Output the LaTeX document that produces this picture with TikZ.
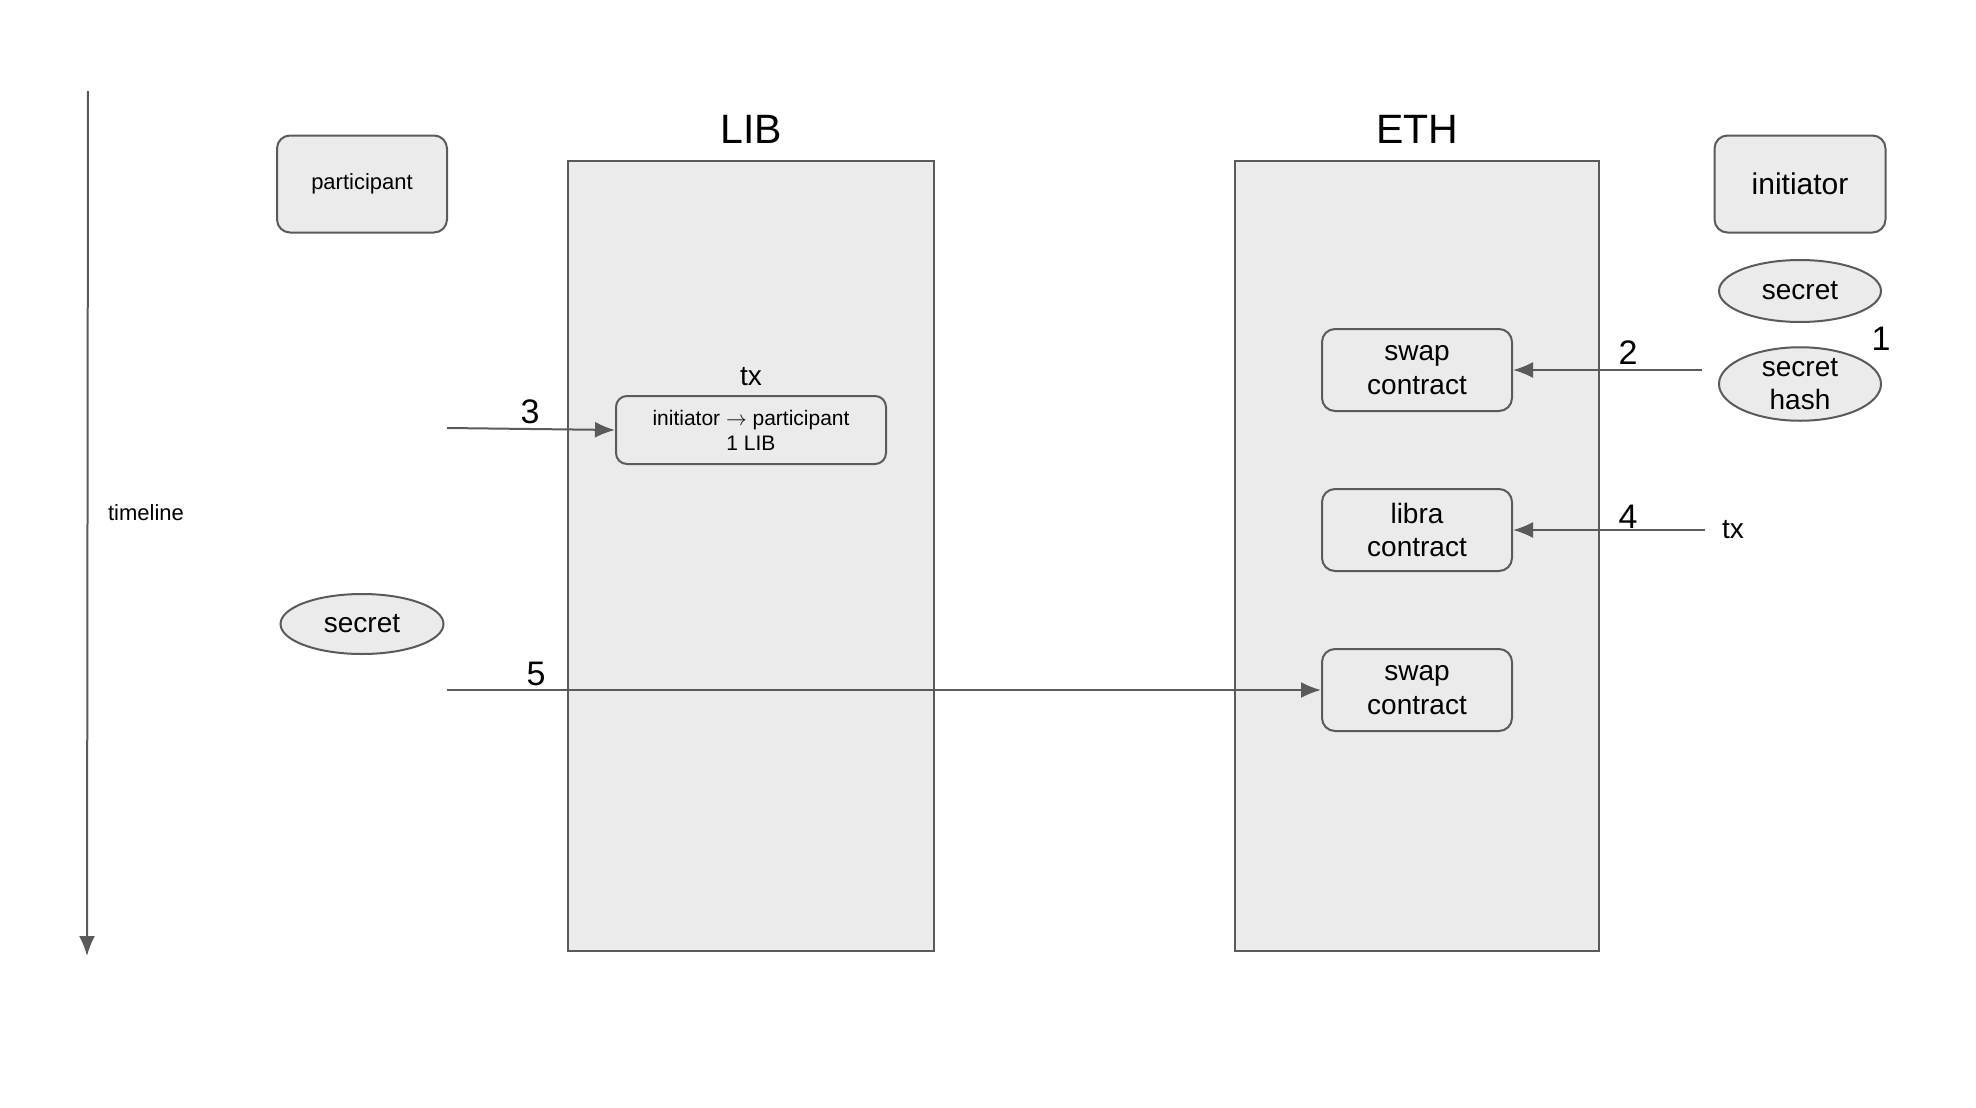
\documentclass[tikz,border=0pt]{standalone}
\usepackage{fontspec}
\setmainfont{Liberation Sans}
\usepackage{tikz}
\usetikzlibrary{positioning,calc,shapes.geometric,arrows.meta}
\definecolor{laneGray}{RGB}{235,235,235}
\definecolor{lineGray}{RGB}{90,90,90}
\newcommand{\fsz}[1]{\fontsize{#1}{1.2\dimexpr#1pt\relax}\selectfont}

\begin{document}
\begin{tikzpicture}[x=1pt, y=-1pt,
        % Style cho cot LIB / ETH
        lane/.style={
            rectangle,
            draw=lineGray,
            fill=laneGray,
            line width=2pt,
            inner sep=0pt
        },
        % Style cho cac hop bo goc
        rbox/.style={
            rectangle,
            rounded corners=13pt,
            draw=lineGray,
            fill=laneGray,
            line width=2pt,
            align=center,
            inner sep=0pt
        },
        % Style cho cac hinh elip
        oval/.style={
            ellipse,
            draw=lineGray,
            fill=laneGray,
            line width=2pt,
            inner sep=0pt
        },
        % Style cho mui ten
        flow/.style={
            draw=lineGray,
            line width=2pt,
            -{Latex[length=20pt,width=16pt]}
        },
        % Style cho so thu tu
        num/.style={
            font=\fsz{34}
        }
    ]

        % --- 0. KHUNG ---
        \useasboundingbox (0,0) rectangle (1976,1108);

        % --- 1. TRUC THOI GIAN ---
        \coordinate (tTop) at (88,91);
        \coordinate (tEnd) at (87,956);
        \draw[flow] (tTop) -- (tEnd);
        \node[font=\fsz{22}] (timeline) at (146,513) {timeline};

        % --- 2. HAI COT ---
        \node[lane, minimum width=366pt, minimum height=790pt] (lib) at (751,556) {};
        \node[lane, minimum width=364pt, minimum height=790pt] (eth) at (1417,556) {};
        \node[font=\fsz{41}] (libTitle) at (751,129) {LIB};
        \node[font=\fsz{41}] (ethTitle) at (1417,129) {ETH};

        % --- 3. CAC BEN ---
        \node[rbox, minimum width=170pt, minimum height=97pt, font=\fsz{22}] (participant) at (362,184) {participant};
        \node[rbox, minimum width=171pt, minimum height=97pt, font=\fsz{30}] (initiator) at (1800,184) {initiator};

        \node[oval, minimum width=162pt, minimum height=62pt, font=\fsz{28}] (secretR) at (1800,291) {secret};
        \node[oval, minimum width=162pt, minimum height=62pt, font=\fsz{28}, align=center] (hashR) at (1800,384) {secret\\hash};
        \node[num] (n1) at (1881,339) {1};

        \node[oval, minimum width=163pt, minimum height=60pt, font=\fsz{28}] (secretL) at (362,624) {secret};

        % --- 4. HOP DONG ---
        \node[rbox, minimum width=190pt, minimum height=82pt, font=\fsz{28}] (swap1) at (1417,370) {swap\\contract};
        \node[rbox, minimum width=190pt, minimum height=82pt, font=\fsz{28}] (libra) at (1417,530) {libra\\contract};
        \node[rbox, minimum width=190pt, minimum height=82pt, font=\fsz{28}] (swap2) at (1417,690) {swap\\contract};

        % giao dich tren LIB
        \node[rbox, rounded corners=11pt, minimum width=270pt, minimum height=68pt, font=\fsz{21}] (txBox) at (751,430) {initiator $\rightarrow$ participant\\1 LIB};
        \node[font=\fsz{28}] (txTop) at (751,377) {tx};
        \node[font=\fsz{28}] (txR) at (1733,530) {tx};

        % --- 5. MUI TEN ---
        \coordinate (s2) at (1702,370);
        \coordinate (s3) at (447,428);
        \coordinate (s4) at (1705,530);
        \coordinate (s5) at (447,690);

        \draw[flow] (s2) -- (swap1);
        \draw[flow] (s3) -- (txBox.west);
        \draw[flow] (s4) -- (libra);
        \draw[flow] (s5) -- (swap2);

        \node[num] (n2) at (1628,353) {2};
        \node[num] (n3) at (530,412) {3};
        \node[num] (n4) at (1628,517) {4};
        \node[num] (n5) at (536,674) {5};

    \end{tikzpicture}
\end{document}
